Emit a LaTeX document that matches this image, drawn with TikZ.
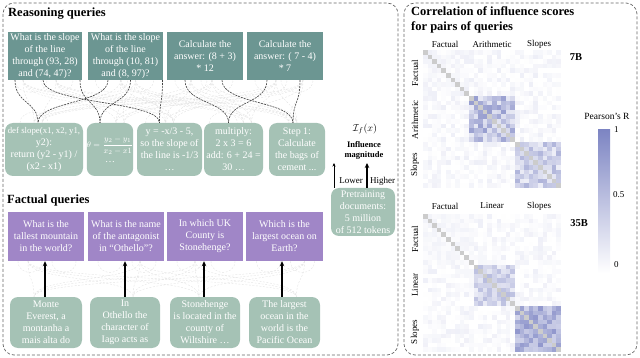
\documentclass[tikz,border=0pt]{standalone}
\usepackage{fontspec}
\setmainfont{Liberation Serif}
\usetikzlibrary{arrows.meta,calc}
\definecolor{qcol}{RGB}{108,150,146}
\definecolor{dcol}{RGB}{165,194,181}
\definecolor{pcol}{RGB}{160,134,199}
\definecolor{cbar}{RGB}{125,133,195}
\begin{document}
\begin{tikzpicture}[x=1pt,y=-1pt,
  boxtext/.style={text=white,align=center,inner sep=0pt,font=\fontsize{10}{12}\selectfont},
  qbox/.style={boxtext,fill=qcol},
  fqbox/.style={boxtext,fill=pcol},
  dbox/.style={boxtext,fill=dcol,rounded corners=8pt},
  faint/.style={gray!22,dash pattern=on 2pt off 1.5pt,line width=0.4pt},
  darkc/.style={black!75,dash pattern=on 2pt off 1pt,line width=0.6pt},
  tharrow/.style={line width=1.3pt,-{Stealth[length=5pt,width=4.5pt]}},
  tnarrow/.style={line width=0.5pt,-{Stealth[length=3.5pt,width=3pt]}},
  panel/.style={dash pattern=on 3pt off 2pt,gray!80!black,line width=0.7pt,rounded corners=11pt},
  title/.style={font=\fontsize{12.5}{14.5}\selectfont\bfseries,inner sep=0pt},
  lab/.style={font=\fontsize{9}{11}\selectfont,inner sep=0pt}
]
\useasboundingbox (0,0) rectangle (640,358);
\draw[panel] (3,3) rectangle (398,355);
\draw[panel] (404,3) rectangle (637,355);

% ---------- Reasoning ----------
\node[title,anchor=west] (rtitle) at (8,14) {Reasoning queries};
\node[qbox,minimum width=74,minimum height=48] (q1) at (45,56) {What is the slope\\of the line\\through (93, 28)\\and (74, 47)?};
\node[qbox,minimum width=75,minimum height=48] (q2) at (125.5,56) {What is the slope\\of the line\\through (10, 81)\\and (8, 97)?};
\node[qbox,minimum width=76,minimum height=48] (q3) at (205,56) {Calculate the\\answer: (8 + 3)\\* 12};
\node[qbox,minimum width=76,minimum height=48] (q4) at (285,56) {Calculate the\\answer: ( 7 - 4)\\* 7};

\node[dbox,minimum width=78,minimum height=53] (d1) at (44,149.5) {\fontsize{8.8}{12}\selectfont def slope(x1, x2, y1,\\y2):\\return (y2 - y1) /\\(x2 - x1)};
\node[dbox,minimum width=46,minimum height=53] (d2) at (110,149.5) {\fontsize{8.5}{10}\selectfont $\theta=\displaystyle\frac{y_2-y_1}{x_2-x1}$\\[3pt] …};
\node[dbox,minimum width=65,minimum height=53] (d3) at (169.5,149.5) {y = -x/3 - 5,\\so the slope of\\the line is -1/3\\…};
\node[dbox,minimum width=59,minimum height=53] (d4) at (233.5,149.5) {multiply:\\2 x 3 = 6\\add: 6 + 24 =\\30 …};
\node[dbox,minimum width=56,minimum height=53] (d5) at (297,149.5) {Step 1:\\Calculate\\the bags of\\cement ...};

% faint connections
\foreach \q/\a in {q1/-22,q2/10,q3/-14,q4/18}{
  \foreach \d/\b in {d1/-10,d2/6,d3/-4,d4/10,d5/-8}{
      \draw[faint] ([xshift=\a]\q.south) .. controls +(0,24) and +(0,-24) .. ([xshift=\b]\d.north);
      \draw[faint] ([xshift=-\a/2]\q.south) .. controls +(0,22) and +(0,-22) .. ([xshift=\b+8]\d.north);
  }
  \draw[faint] ([xshift=-30]\q.south) .. controls +(0,16) and +(0,16) .. ([xshift=2]\q.south);
  \draw[faint] ([xshift=-4]\q.south) .. controls +(0,16) and +(0,16) .. ([xshift=28]\q.south);
}
\foreach \d in {d1,d3,d4}{
  \draw[faint] ([xshift=-24]\d.north) .. controls +(0,-14) and +(0,-14) .. ([xshift=4]\d.north);
}
% dark connections
\draw[darkc] ([xshift=-30]q1.south) .. controls +(0,24) and +(0,-22) .. ([xshift=-6]d1.north);
\draw[darkc] ([xshift=-17.5]q2.south) .. controls +(0,24) and +(0,-22) .. ([xshift=-6]d1.north);
\draw[darkc] ([xshift=-2]q1.south) .. controls +(0,24) and +(0,-22) .. ([xshift=-10]d3.north);
\draw[darkc] ([xshift=35]q1.south) .. controls +(0,24) and +(0,-22) .. ([xshift=-10]d2.north);
\draw[darkc] ([xshift=5]q2.south) .. controls +(0,24) and +(0,-22) .. ([xshift=-10]d2.north);
\draw[darkc] ([xshift=37]q2.south) .. controls +(0,24) and +(0,-22) .. ([xshift=-10]d3.north);
\draw[darkc] ([xshift=-20]q3.south) .. controls +(0,24) and +(0,-22) .. ([xshift=-5]d4.north);
\draw[darkc] ([xshift=17]q3.south) .. controls +(0,24) and +(0,-22) .. ([xshift=-4]d5.north);
\draw[darkc] ([xshift=-18]q4.south) .. controls +(0,24) and +(0,-22) .. ([xshift=-5]d4.north);
\draw[darkc] ([xshift=15]q4.south) .. controls +(0,24) and +(0,-22) .. ([xshift=-4]d5.north);

% influence
\node[font=\fontsize{10}{12}\selectfont,inner sep=0pt] (inf) at (365,129) {$\mathcal{I}_f(x)$};
\node[font=\fontsize{8.5}{10}\selectfont\bfseries,align=center,inner sep=0pt] (mag) at (364,150) {Influence\\magnitude};
\node[dbox,minimum width=64,minimum height=48] (pre) at (363,212) {Pretraining\\documents:\\5 million\\of 512 tokens};
\coordinate (lowE) at (334,163);
\coordinate (highE) at (367,163);
\draw[tnarrow] ([xshift=-29]pre.north) -- (lowE);
\draw[tharrow] ([xshift=4]pre.north) -- (highE);
\node[lab] (lower) at (351,181) {Lower};
\node[lab] (higher) at (382.5,181) {Higher};

% ---------- Factual ----------
\node[title,anchor=west] (ftitle) at (7,200) {Factual queries};
\node[fqbox,minimum width=76,minimum height=49] (f1) at (46,236.5) {What is the\\tallest mountain\\in the world?};
\node[fqbox,minimum width=76,minimum height=49] (f2) at (126,236.5) {What is the name\\of the antagonist\\in “Othello”?};
\node[fqbox,minimum width=76,minimum height=49] (f3) at (205,236.5) {In which UK\\County is\\Stonehenge?};
\node[fqbox,minimum width=77,minimum height=49] (f4) at (284.5,236.5) {Which is the\\largest ocean on\\Earth?};

\node[dbox,minimum width=72,minimum height=51] (g1) at (46,322.5) {Monte\\Everest, a\\montanha a\\mais alta do};
\node[dbox,minimum width=70,minimum height=51] (g2) at (125,322.5) {In\\Othello the\\character of\\Iago acts as};
\node[dbox,minimum width=70,minimum height=51] (g3) at (205,322.5) {Stonehenge\\is located in the\\county of\\Wiltshire …};
\node[dbox,minimum width=71,minimum height=51] (g4) at (284.5,322.5) {The largest\\ocean in the\\world is the\\Pacific Ocean};

\foreach \f/\a in {f1/-18,f2/14,f3/-10,f4/20}{
  \foreach \g/\b in {g1/-12,g2/8,g3/-6,g4/12}{
      \draw[faint] ([xshift=\a]\f.south) .. controls +(0,20) and +(0,-20) .. ([xshift=\b]\g.north);
  }
  \draw[faint] ([xshift=-28]\f.south) .. controls +(0,15) and +(0,15) .. ([xshift=-4]\f.south);
  \draw[faint] ([xshift=6]\f.south) .. controls +(0,15) and +(0,15) .. ([xshift=30]\f.south);
}
\draw[tharrow] ([xshift=-1]g1.north) -- ([xshift=-1]f1.south);
\draw[tharrow] (g2.north) -- ([xshift=-1]f2.south);
\draw[tharrow] ([xshift=-1]g3.north) -- ([xshift=-1]f3.south);
\draw[tharrow] ([xshift=-2.5]g4.north) -- ([xshift=-2.5]f4.south);

% ---------- Correlation panel ----------
\node[title,anchor=west,align=left] (ctitle) at (411,20) {Correlation of influence scores\\for pairs of queries};

% 7B matrix
\foreach \i in {0,...,29}{
  \foreach \j in {0,...,29}{
    \pgfmathtruncatemacro{\bi}{\i<10 ? 0 : (\i<20 ? 1 : 2)}
    \pgfmathtruncatemacro{\bj}{\j<10 ? 0 : (\j<20 ? 1 : 2)}
    \pgfmathsetmacro{\r}{abs(sin(min(\i,\j)*12.9898+max(\i,\j)*78.233))*97}
    \pgfmathsetmacro{\r}{\r-floor(\r)}
    \pgfmathtruncatemacro{\p}{(\bi==\bj) ? ((\bi==1) ? 18+62*\r : ((\bi==2) ? 14+48*\r : 1+12*\r)) : 14*\r*\r}
    \ifnum\i=\j\relax
      \fill[gray!40] (423+\j*4.6,50+\i*4.6) rectangle ++(4.6,4.6);
    \else
      \fill[cbar!\p!white] (423+\j*4.6,50+\i*4.6) rectangle ++(4.6,4.6);
    \fi
  }
}
% 35B matrix
\foreach \i in {0,...,29}{
  \foreach \j in {0,...,29}{
    \pgfmathtruncatemacro{\bi}{\i<11 ? 0 : (\i<20 ? 1 : 2)}
    \pgfmathtruncatemacro{\bj}{\j<11 ? 0 : (\j<20 ? 1 : 2)}
    \pgfmathsetmacro{\r}{abs(sin(min(\i,\j)*13.713+max(\i,\j)*71.137+17))*89}
    \pgfmathsetmacro{\r}{\r-floor(\r)}
    \pgfmathtruncatemacro{\p}{(\bi==\bj) ? ((\bi==1) ? 10+45*\r : ((\bi==2) ? 35+50*\r : 1+10*\r)) : 13*\r*\r}
    \ifnum\i=\j\relax
      \fill[gray!40] (423+\j*4.6,214+\i*4.6) rectangle ++(4.6,4.6);
    \else
      \fill[cbar!\p!white] (423+\j*4.6,214+\i*4.6) rectangle ++(4.6,4.6);
    \fi
  }
}
\node[lab] (c1) at (445,44) {Factual};
\node[lab] (c2) at (492,44) {Arithmetic};
\node[lab] (c3) at (539,44) {Slopes};
\node[lab,rotate=90] (r1) at (415,73) {Factual};
\node[lab,rotate=90] (r2) at (415,120) {Arithmetic};
\node[lab,rotate=90] (r3) at (415,165) {Slopes};
\node[font=\fontsize{10.5}{12}\selectfont\bfseries,inner sep=0pt] (m7) at (576,57) {7B};

\node[lab] (c4) at (445,206) {Factual};
\node[lab] (c5) at (492,206) {Linear};
\node[lab] (c6) at (539,206) {Slopes};
\node[lab,rotate=90] (r4) at (415,239) {Factual};
\node[lab,rotate=90] (r5) at (415,285) {Linear};
\node[lab,rotate=90] (r6) at (415,332) {Slopes};
\node[font=\fontsize{10.5}{12}\selectfont\bfseries,inner sep=0pt] (m35) at (579,223) {35B};

% colour bar
\node[font=\fontsize{9.5}{11}\selectfont,inner sep=0pt] (pr) at (607,116) {Pearson's R};
\shade[top color=cbar,bottom color=white] (598,130) rectangle (610,273);
\node[lab,anchor=west] (v1) at (614,130) {1};
\node[lab,anchor=west] (v05) at (613,195) {0.5};
\node[lab,anchor=west] (v0) at (614,265) {0};
\end{tikzpicture}
\end{document}
